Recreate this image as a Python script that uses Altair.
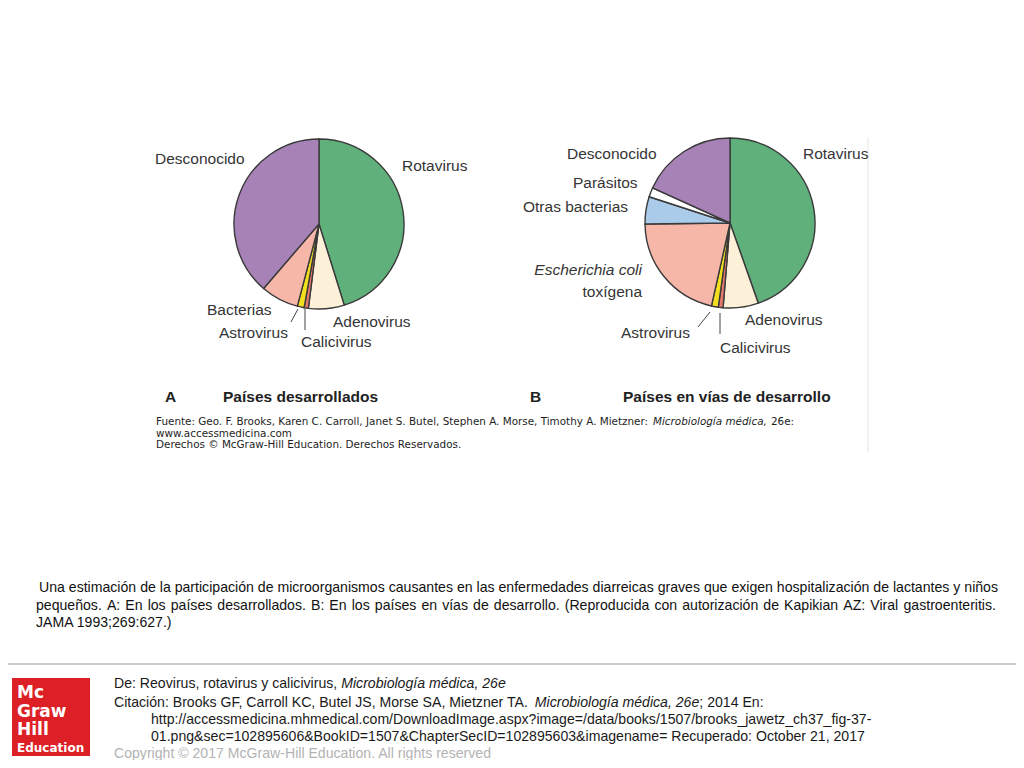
import altair as alt
import pandas as pd

# ---------------- data ----------------
pie_a_categories = ["Rotavirus", "Adenovirus", "Calicivirus", "Astrovirus", "Bacterias", "Desconocido"]
pie_a_values = [45.2, 6.8, 0.8, 1.3, 7.2, 38.7]

pie_b_categories = ["Rotavirus", "Adenovirus", "Calicivirus", "Astrovirus",
                    "Escherichia coli toxígena", "Otras bacterias", "Parásitos", "Desconocido"]
pie_b_values = [44.6, 6.7, 0.9, 1.3, 21.3, 5.2, 1.8, 18.2]

panel_letters = ["A", "B"]
panel_titles = ["Países desarrollados", "Países en vías de desarrollo"]

source_plain = "Fuente: Geo. F. Brooks, Karen C. Carroll, Janet S. Butel, Stephen A. Morse, Timothy A. Mietzner:"
source_italic = "Microbiología médica,"
source_tail = "26e:"
source_lines = ["www.accessmedicina.com", "Derechos © McGraw-Hill Education. Derechos Reservados."]

caption_lines = [
    "Una estimación de la participación de microorganismos causantes en las enfermedades diarreicas graves que exigen hospitalización de lactantes y niños",
    "pequeños. A: En los países desarrollados. B: En los países en vías de desarrollo. (Reproducida con autorización de Kapikian AZ: Viral gastroenteritis.",
    "JAMA 1993;269:627.)",
]

footer_line1 = [("De: Reovirus, rotavirus y calicivirus, ", False), ("Microbiología médica, 26e", True)]
footer_line2 = [("Citación: Brooks GF, Carroll KC, Butel JS, Morse SA, Mietzner TA. ", False),
                ("Microbiología médica, 26e", True), ("; 2014 En:", False)]
footer_line3 = "http://accessmedicina.mhmedical.com/DownloadImage.aspx?image=/data/books/1507/brooks_jawetz_ch37_fig-37-"
footer_line4 = "01.png&sec=102895606&BookID=1507&ChapterSecID=102895603&imagename= Recuperado: October 21, 2017"
copyright_line = "Copyright © 2017 McGraw-Hill Education. All rights reserved"
logo_words = ["Mc", "Graw", "Hill", "Education"]

# ---------------- style / layout ----------------
category_colors = {
    "Rotavirus": "#5fb07a",
    "Adenovirus": "#fdf0d9",
    "Calicivirus": "#e2796b",
    "Astrovirus": "#f4df1f",
    "Bacterias": "#f6b6a8",
    "Escherichia coli toxígena": "#f6b6a8",
    "Otras bacterias": "#abcbeb",
    "Parásitos": "#ffffff",
    "Desconocido": "#a682b7",
}

OFF = 8  # page margin
SANS = "Liberation Sans, Arial, Helvetica, sans-serif"
VERD = "DejaVu Sans, Verdana, sans-serif"

# Arial / Liberation Sans advance widths (1/1000 em)
AW = {' ': 278, '!': 278, '"': 355, '#': 556, '$': 556, '%': 889, '&': 667, "'": 191, '(': 333, ')': 333,
      '*': 389, '+': 584, ',': 278, '-': 333, '.': 278, '/': 278, ':': 278, ';': 278, '<': 584, '=': 584,
      '>': 584, '?': 556, '@': 1015, '[': 278, ']': 278, '_': 556, '©': 737,
      'A': 667, 'B': 667, 'C': 722, 'D': 722, 'E': 667, 'F': 611, 'G': 778, 'H': 722, 'I': 278, 'J': 500,
      'K': 667, 'L': 556, 'M': 833, 'N': 722, 'O': 778, 'P': 667, 'Q': 778, 'R': 722, 'S': 667, 'T': 611,
      'U': 722, 'V': 667, 'W': 944, 'X': 667, 'Y': 667, 'Z': 611,
      'a': 556, 'b': 556, 'c': 500, 'd': 556, 'e': 556, 'f': 278, 'g': 556, 'h': 556, 'i': 222, 'j': 222,
      'k': 500, 'l': 222, 'm': 833, 'n': 556, 'o': 556, 'p': 556, 'q': 556, 'r': 333, 's': 500, 't': 278,
      'u': 556, 'v': 500, 'w': 722, 'x': 500, 'y': 500, 'z': 500,
      'á': 556, 'é': 556, 'í': 278, 'ó': 556, 'ú': 556, 'ñ': 556}
for d in "0123456789":
    AW[d] = 556


def aw(s, size):
    return sum(AW.get(ch, 556) for ch in s) * size / 1000.0


def justify_rows(line, x0, x1, y, size):
    words = line.split(" ")
    widths = [aw(w, size) for w in words]
    gap = (x1 - x0 - sum(widths)) / (len(words) - 1)
    rows, x = [], x0
    for w, wd in zip(words, widths):
        rows.append((w, x, y))
        x += wd + gap
    return rows


def seq_rows(segments, x0, y, size):
    reg, ita, x = [], [], x0
    for s, italic in segments:
        (ita if italic else reg).append((s, x, y))
        x += aw(s, size)
    return reg, ita


def texts(rows, **kw):
    df = pd.DataFrame(rows, columns=["t", "x", "y"])
    df["x"] = df["x"] - OFF
    df["y"] = df["y"] - OFF
    return alt.Chart(df).mark_text(**kw).encode(
        x=alt.X("x:Q", scale=None, axis=None),
        y=alt.Y("y:Q", scale=None, axis=None),
        text=alt.Text("t:N"),
    )


def rules(rows, **kw):
    df = pd.DataFrame(rows, columns=["x", "y", "x2", "y2"]) - OFF
    return alt.Chart(df).mark_rule(**kw).encode(
        x=alt.X("x:Q", scale=None, axis=None),
        y=alt.Y("y:Q", scale=None, axis=None),
        x2="x2:Q", y2="y2:Q",
    )


def pie(cats, vals, cx, cy):
    df = pd.DataFrame({"cat": cats, "value": vals, "idx": list(range(len(cats)))})
    return alt.Chart(df).mark_arc(radius=85, stroke="#3a3a3a", strokeWidth=1.4).encode(
        theta=alt.Theta("value:Q", stack=True),
        order=alt.Order("idx:Q"),
        color=alt.Color("cat:N", scale=alt.Scale(domain=cats, range=[category_colors[c] for c in cats]),
                        legend=None),
        x=alt.value(cx - OFF),
        y=alt.value(cy - OFF),
    )


label_pos_a = {"Desconocido": (155, 159), "Rotavirus": (402, 166), "Bacterias": (207, 310),
               "Adenovirus": (333, 322), "Astrovirus": (219, 333), "Calicivirus": (301, 342)}
label_pos_b = {"Desconocido": (567, 154), "Rotavirus": (803, 154), "Parásitos": (573, 183),
               "Otras bacterias": (523, 207), "Adenovirus": (745, 320), "Astrovirus": (621, 333),
               "Calicivirus": (720, 348)}

layers = []

# faint border of the figure image
layers.append(rules([(868, 137, 868, 452)], color="#e4e4e4", strokeWidth=1))

# pies
layers.append(pie(pie_a_categories, pie_a_values, 319, 224))
layers.append(pie(pie_b_categories, pie_b_values, 730, 223))

# pie labels
lab_rows = [(c, *label_pos_a[c]) for c in pie_a_categories if c in label_pos_a]
lab_rows += [(c, *label_pos_b[c]) for c in pie_b_categories if c in label_pos_b]
layers.append(texts(lab_rows, font=SANS, fontSize=15.5, color="#353535", align="left", baseline="middle"))
layers.append(texts([("Escherichia coli", 642, 270)], font=SANS, fontSize=15.5, fontStyle="italic",
                    color="#353535", align="right", baseline="middle"))
layers.append(texts([("toxígena", 642, 292)], font=SANS, fontSize=15.5,
                    color="#353535", align="right", baseline="middle"))

# leader lines
layers.append(rules([(291, 322, 298, 309), (305, 309, 305, 330), (698, 327, 710, 312), (720, 313, 720, 334)],
                    color="#444444", strokeWidth=1))

# panel titles
layers.append(texts([(panel_letters[0], 165, 397), (panel_titles[0], 223, 397),
                     (panel_letters[1], 530, 397), (panel_titles[1], 623, 397)],
                    font=SANS, fontSize=15.5, fontWeight="bold", color="#222222", align="left",
                    baseline="middle"))

# source
layers.append(texts([(source_plain, 156, 422), (source_tail, 771, 422),
                     (source_lines[0], 156, 433.5), (source_lines[1], 156, 445)],
                    font=VERD, fontSize=10.4, color="#1e1e1e", align="left", baseline="middle"))
layers.append(texts([(source_italic, 653, 422)], font=VERD, fontSize=10.4, fontStyle="italic",
                    color="#1e1e1e", align="left", baseline="middle"))

# caption (justified)
CAP = 14.1
cap_rows = justify_rows(caption_lines[0], 39, 998, 588, CAP)
cap_rows += justify_rows(caption_lines[1], 36, 996, 606, CAP)
cap_rows += [(caption_lines[2], 36, 623)]
layers.append(texts(cap_rows, font=SANS, fontSize=CAP, color="#111111", align="left", baseline="middle"))

# separator
layers.append(rules([(8, 664, 1024, 664)], color="#cccccc", strokeWidth=2))

# logo
logo_df = pd.DataFrame({"x": [12 - OFF], "x2": [90 - OFF], "y": [678 - OFF], "y2": [756 - OFF]})
layers.append(alt.Chart(logo_df).mark_rect(color="#dd1f26").encode(
    x=alt.X("x:Q", scale=None, axis=None), x2="x2:Q",
    y=alt.Y("y:Q", scale=None, axis=None), y2="y2:Q"))
layers.append(texts([(logo_words[0], 17, 697.5), (logo_words[1], 17, 716.5), (logo_words[2], 17, 735)],
                    font="DejaVu Sans, Verdana, sans-serif", fontSize=17, fontWeight="bold",
                    color="#ffffff", align="left", baseline="alphabetic"))
layers.append(texts([(logo_words[3], 17, 752)], font="DejaVu Sans, Verdana, sans-serif", fontSize=12,
                    fontWeight="bold", color="#ffffff", align="left", baseline="alphabetic"))

# footer
FS = 14.1
r1, i1 = seq_rows(footer_line1, 114, 684, FS)
r2, i2 = seq_rows(footer_line2, 114, 703, FS)
foot_reg = r1 + r2 + [(footer_line3, 151, 720), (footer_line4, 151, 737)]
layers.append(texts(foot_reg, font=SANS, fontSize=FS, color="#1a1a1a", align="left", baseline="middle"))
layers.append(texts(i1 + i2, font=SANS, fontSize=FS, fontStyle="italic", color="#1a1a1a",
                    align="left", baseline="middle"))
layers.append(texts([(copyright_line, 114, 754)], font=SANS, fontSize=FS, color="#b3b3b3",
                    align="left", baseline="middle"))

chart = alt.layer(*layers).resolve_scale(
    theta="independent", color="independent"
).properties(
    width=1008, height=752, padding=0, autosize=alt.AutoSizeParams(type="none")
).configure_view(strokeWidth=0)

chart.save("out.html", embed_options={"renderer": "svg", "actions": False})
